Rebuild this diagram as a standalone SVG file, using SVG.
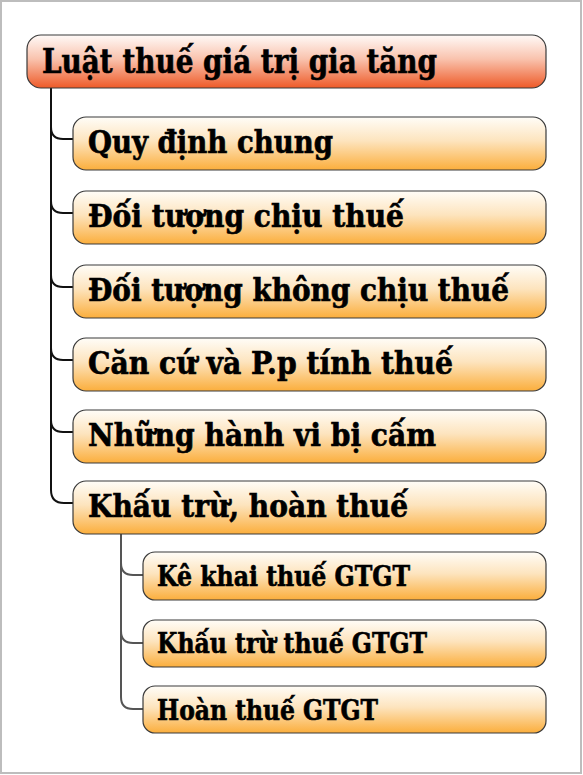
<svg xmlns="http://www.w3.org/2000/svg" width="583" height="775" viewBox="0 0 583 775">
<defs>
<linearGradient id="gRoot" x1="0" y1="0" x2="0" y2="1">
<stop offset="0" stop-color="#fffaf8"/>
<stop offset="0.45" stop-color="#f9c3ae"/>
<stop offset="1" stop-color="#ee5a28"/>
</linearGradient>
<linearGradient id="gChild" x1="0" y1="0" x2="0" y2="1">
<stop offset="0" stop-color="#fffdf8"/>
<stop offset="0.45" stop-color="#fde4be"/>
<stop offset="1" stop-color="#fbae3c"/>
</linearGradient>
<style>
.box{stroke:#3a3a3a;stroke-width:1.2}
.root{fill:url(#gRoot)}
.child{fill:url(#gChild)}
text{font-family:"DejaVu Serif Condensed","DejaVu Serif","Liberation Serif",serif;font-weight:bold;fill:#000;stroke:#000;stroke-width:0.6}
.t1{font-size:33px}
.t2{font-size:31px}
.t3{font-size:28.5px}
.main{fill:none;stroke:#111;stroke-width:2}
.sub{fill:none;stroke:#555;stroke-width:2}
</style>
</defs>
<rect x="1" y="1" width="580" height="772" fill="#fff" stroke="#bdbdbd" stroke-width="2"/>
<g id="connectors">
<path class="main" d="M51 88 V490 Q51 503 64 503 H73"/>
<path class="main" d="M51 127 Q51 139 63 139 H73"/>
<path class="main" d="M51 201 Q51 213 63 213 H73"/>
<path class="main" d="M51 275 Q51 287 63 287 H73"/>
<path class="main" d="M51 348 Q51 360 63 360 H73"/>
<path class="main" d="M51 420 Q51 432 63 432 H73"/>
<path class="sub" d="M121 534 V697 Q121 709 133 709 H143"/>
<path class="sub" d="M121 563 Q121 575 133 575 H143"/>
<path class="sub" d="M121 631 Q121 643 133 643 H143"/>
</g>
<g id="root">
<rect class="box root" x="27" y="35" width="519" height="53" rx="14"/>
<text class="t1" x="42" y="73" textLength="395" lengthAdjust="spacingAndGlyphs">Luật thuế giá trị gia tăng</text>
</g>
<g id="n1">
<rect class="box child" x="73" y="117" width="473" height="53" rx="13"/>
<text class="t2" x="88" y="153" textLength="245" lengthAdjust="spacingAndGlyphs">Quy định chung</text>
</g>
<g id="n2">
<rect class="box child" x="73" y="191" width="473" height="53" rx="13"/>
<text class="t2" x="88" y="227" textLength="316" lengthAdjust="spacingAndGlyphs">Đối tượng chịu thuế</text>
</g>
<g id="n3">
<rect class="box child" x="73" y="265" width="473" height="53" rx="13"/>
<text class="t2" x="88" y="301" textLength="421" lengthAdjust="spacingAndGlyphs">Đối tượng không chịu thuế</text>
</g>
<g id="n4">
<rect class="box child" x="73" y="338" width="473" height="53" rx="13"/>
<text class="t2" x="88" y="374" textLength="365" lengthAdjust="spacingAndGlyphs">Căn cứ và P.p tính thuế</text>
</g>
<g id="n5">
<rect class="box child" x="73" y="410" width="473" height="53" rx="13"/>
<text class="t2" x="88" y="446" textLength="348" lengthAdjust="spacingAndGlyphs">Những hành vi bị cấm</text>
</g>
<g id="n6">
<rect class="box child" x="73" y="481" width="473" height="53" rx="13"/>
<text class="t2" x="88" y="517" textLength="320" lengthAdjust="spacingAndGlyphs">Khấu trừ, hoàn thuế</text>
</g>
<g id="s1">
<rect class="box child" x="143" y="552" width="403" height="48" rx="12"/>
<text class="t3" x="157" y="586" textLength="253" lengthAdjust="spacingAndGlyphs">Kê khai thuế GTGT</text>
</g>
<g id="s2">
<rect class="box child" x="143" y="620" width="403" height="47" rx="12"/>
<text class="t3" x="157" y="653" textLength="270" lengthAdjust="spacingAndGlyphs">Khấu trừ thuế GTGT</text>
</g>
<g id="s3">
<rect class="box child" x="143" y="686" width="403" height="47" rx="12"/>
<text class="t3" x="157" y="720" textLength="221" lengthAdjust="spacingAndGlyphs">Hoàn thuế GTGT</text>
</g>
</svg>
